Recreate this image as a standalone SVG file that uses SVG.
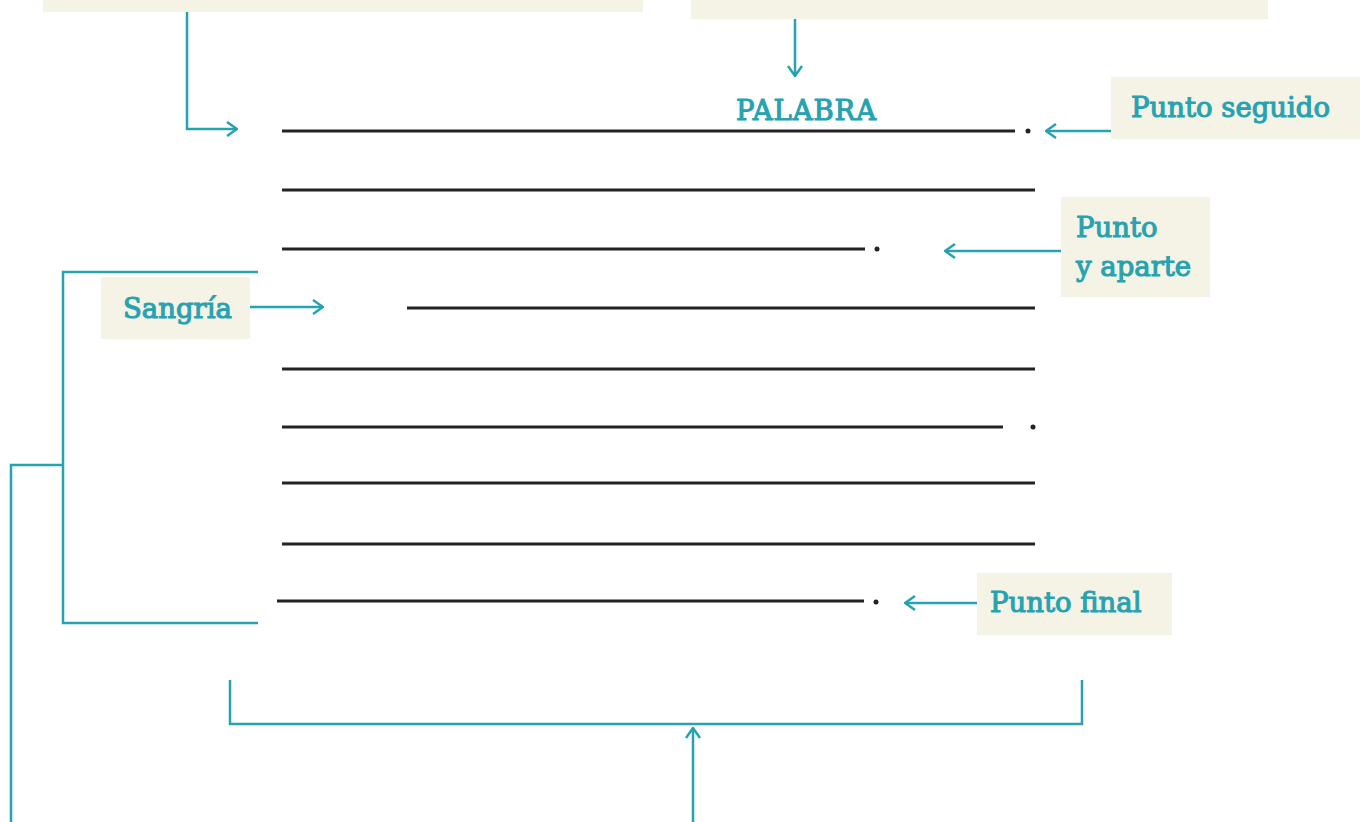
<svg xmlns="http://www.w3.org/2000/svg" width="1360" height="822" viewBox="0 0 1360 822">
  <style>
    .box { fill: #f5f3e6; }
    .lbl { font-family: "DejaVu Serif", "Liberation Serif", serif; font-size: 27.5px; fill: #27a2b0; stroke: #27a2b0; stroke-width: 1.1; paint-order: stroke; }
    .con { fill: none; stroke: #27a2b0; stroke-width: 2.5; }
    .rule { stroke: #232323; stroke-width: 3; }
    .dot { fill: #232323; }
  </style>
  <defs>
    <marker id="chev" viewBox="0 0 12 16" refX="11" refY="8" markerWidth="12" markerHeight="16" markerUnits="userSpaceOnUse" orient="auto">
      <path d="M1,1 L11,8 L1,15" fill="none" stroke="#27a2b0" stroke-width="2.5"/>
    </marker>
  </defs>

  <!-- label boxes -->
  <g id="box-top-left"><rect class="box" x="43" y="0" width="600" height="12"/></g>
  <g id="box-top-right"><rect class="box" x="691" y="0" width="577" height="19"/></g>
  <g id="palabra"><text class="lbl" x="806" y="120" text-anchor="middle" textLength="140">PALABRA</text></g>
  <g id="punto-seguido">
    <rect class="box" x="1111" y="77" width="249" height="62"/>
    <text class="lbl" x="1131" y="117">Punto seguido</text>
  </g>
  <g id="punto-y-aparte">
    <rect class="box" x="1061" y="197" width="149" height="100"/>
    <text class="lbl" x="1076" y="237">Punto</text>
    <text class="lbl" x="1076" y="276">y aparte</text>
  </g>
  <g id="sangria">
    <rect class="box" x="101" y="277" width="149" height="62"/>
    <text class="lbl" x="123" y="318">Sangría</text>
  </g>
  <g id="punto-final">
    <rect class="box" x="977" y="573" width="195" height="62"/>
    <text class="lbl" x="990" y="612">Punto final</text>
  </g>

  <!-- text lines of the paragraph -->
  <g id="lineas">
    <line class="rule" x1="282" y1="131" x2="1015" y2="131"/>
    <circle class="dot" cx="1028" cy="131" r="2.5"/>
    <line class="rule" x1="282" y1="190" x2="1035" y2="190"/>
    <line class="rule" x1="282" y1="249" x2="865" y2="249"/>
    <circle class="dot" cx="877" cy="249" r="2.5"/>
    <line class="rule" x1="407" y1="308" x2="1035" y2="308"/>
    <line class="rule" x1="282" y1="369" x2="1035" y2="369"/>
    <line class="rule" x1="282" y1="427" x2="1003" y2="427"/>
    <circle class="dot" cx="1033" cy="427" r="2.5"/>
    <line class="rule" x1="282" y1="483" x2="1035" y2="483"/>
    <line class="rule" x1="282" y1="544" x2="1035" y2="544"/>
    <line class="rule" x1="277" y1="601" x2="864" y2="601"/>
    <circle class="dot" cx="876" cy="602" r="2.5"/>
  </g>

  <!-- connectors -->
  <g id="conectores">
    <path class="con" d="M187,12 V129 H237" marker-end="url(#chev)"/>
    <path class="con" d="M795,19 V76" marker-end="url(#chev)"/>
    <path class="con" d="M1111,131 H1046" marker-end="url(#chev)"/>
    <path class="con" d="M1061,251 H945" marker-end="url(#chev)"/>
    <path class="con" d="M250,307 H323" marker-end="url(#chev)"/>
    <path class="con" d="M977,603 H905" marker-end="url(#chev)"/>
    <path class="con" d="M258,272 H63 V623 H258"/>
    <path class="con" d="M63,465 H11 V822"/>
    <path class="con" d="M230,680 V724 H1082 V680"/>
    <path class="con" d="M693,822 V728" marker-end="url(#chev)"/>
  </g>
</svg>
